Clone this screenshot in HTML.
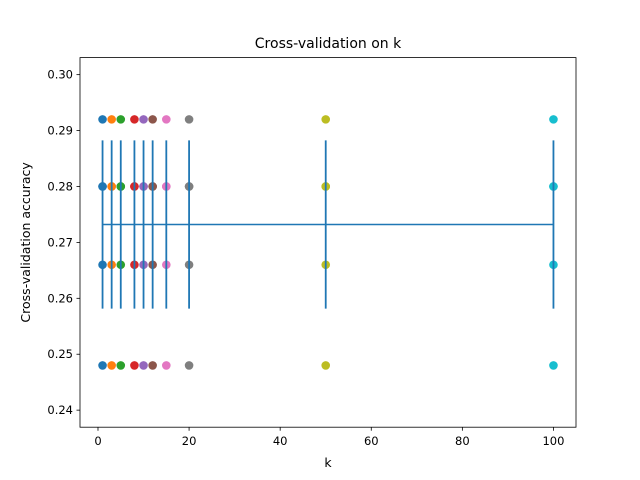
<!DOCTYPE html>
<html><head><meta charset="utf-8"><style>body{margin:0;background:#fff}svg{display:block;font-family:"DejaVu Sans","Liberation Sans",sans-serif}</style></head>
<body>
<svg id="c" width="640" height="480"></svg>
<script>
const kChoices = [1, 3, 5, 8, 10, 12, 15, 20, 50, 100];
const foldAccuracies = [0.248, 0.266, 0.280, 0.280, 0.292];
const xTicks = [0, 20, 40, 60, 80, 100];
const yTicks = [0.24, 0.25, 0.26, 0.27, 0.28, 0.29, 0.30];
const colors = ['#1f77b4','#ff7f0e','#2ca02c','#d62728','#9467bd','#8c564b','#e377c2','#7f7f7f','#bcbd22','#17becf'];
const L=80,R=576,T=57.6,B=427.2, xmin=-3.95,xmax=104.95, ymin=0.23695,ymax=0.30305;
const xs=v=>L+(v-xmin)/(xmax-xmin)*(R-L);
const ys=v=>B-(v-ymin)/(ymax-ymin)*(B-T);
const svg=document.getElementById('c');const NS='http://www.w3.org/2000/svg';
function add(tag,attrs,txt){const e=document.createElementNS(NS,tag);for(const k in attrs)e.setAttribute(k,attrs[k]);if(txt!=null)e.textContent=txt;svg.appendChild(e);return e;}
kChoices.forEach((k,i)=>{foldAccuracies.forEach(a=>{
 const c=add('circle',{cx:xs(k),cy:ys(a),r:4.3,fill:colors[i%10]});
 
 
});});
const n=foldAccuracies.length;const mean=foldAccuracies.reduce((s,v)=>s+v,0)/n;
const std=Math.sqrt(foldAccuracies.reduce((s,v)=>s+(v-mean)**2,0)/n);
kChoices.forEach(k=>{const e=add('line',{x1:xs(k),x2:xs(k),y1:ys(mean-std),y2:ys(mean+std),stroke:'#1f77b4','stroke-width':1.8});
 
 });
const ml=add('polyline',{points:kChoices.map(k=>xs(k)+','+ys(mean)).join(' '),fill:'none',stroke:'#1f77b4','stroke-width':1.5});


const fr=add('rect',{x:L,y:T,width:R-L,height:B-T,fill:'none',stroke:'#000','stroke-width':0.8});


xTicks.forEach(t=>{const x=xs(t);add('line',{x1:x,x2:x,y1:B,y2:B+3.5,stroke:'#000','stroke-width':0.8});
 const tx=add('text',{x:x,y:B+18,'font-size':11.5,'text-anchor':'middle'},String(t));
 
 });
yTicks.forEach(t=>{const y=ys(t);add('line',{x1:L-3.5,x2:L,y1:y,y2:y,stroke:'#000','stroke-width':0.8});
 const tx=add('text',{x:L-7,y:y+4,'font-size':11.5,'text-anchor':'end'},t.toFixed(2));
 
 });
const xt=add('text',{x:(L+R)/2,y:467,'font-size':12.5,'text-anchor':'middle'},'k');


const yt=add('text',{x:0,y:0,'font-size':12.5,'text-anchor':'middle',transform:'translate(30,'+((T+B)/2)+') rotate(-90)'},'Cross-validation accuracy');


const ti=add('text',{x:(L+R)/2,y:48,'font-size':14,'text-anchor':'middle'},'Cross-validation on k');


</script>
</body></html>
